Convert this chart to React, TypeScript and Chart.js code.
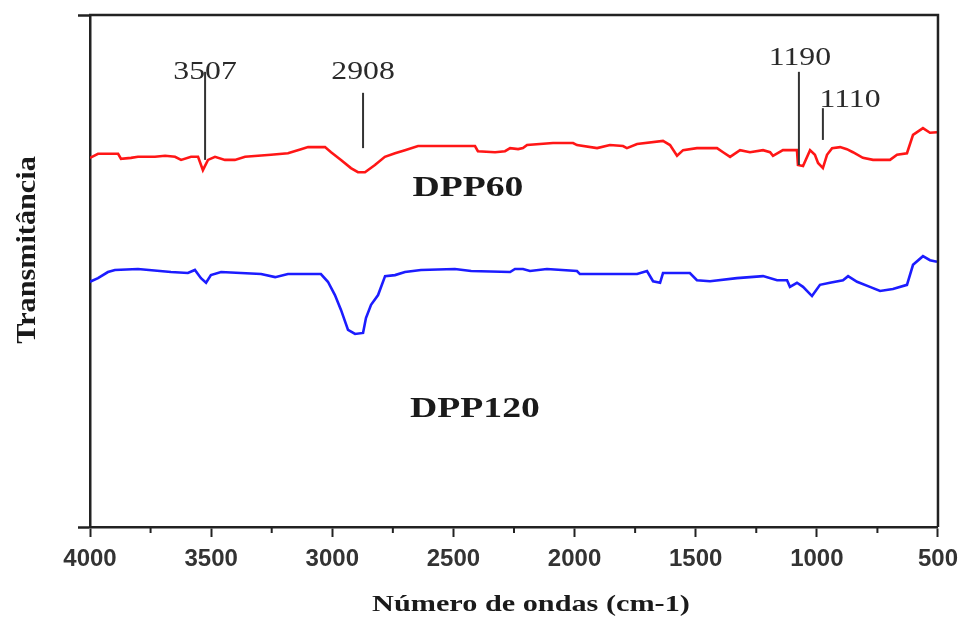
import React, { useEffect, useRef } from 'react';
import { Chart, registerables } from 'chart.js';

Chart.register(...registerables);

// FTIR spectra (wavenumber in cm-1, transmittance in arbitrary units)
const redWave = [4000, 3967, 3884, 3872, 3831, 3802, 3732, 3690, 3649, 3624, 3583, 3554, 3534, 3513, 3484, 3443, 3402, 3360, 3253, 3183, 3129, 3100, 3030, 3005, 2964, 2923, 2894, 2865, 2824, 2783, 2741, 2700, 2646, 2564, 2411, 2399, 2328, 2287, 2266, 2233, 2213, 2196, 2089, 2006, 1990, 1907, 1854, 1800, 1784, 1742, 1635, 1606, 1577, 1552, 1495, 1412, 1387, 1358, 1317, 1276, 1222, 1193, 1181, 1140, 1082, 1078, 1057, 1028, 1008, 995, 975, 958, 937, 904, 876, 851, 810, 768, 698, 669, 628, 603, 562, 533, 504];
const redValues = [72.1, 72.9, 72.9, 71.9, 72.1, 72.3, 72.3, 72.5, 72.3, 71.7, 72.3, 72.3, 69.7, 71.7, 72.3, 71.7, 71.7, 72.3, 72.7, 73.0, 73.8, 74.2, 74.2, 73.2, 71.7, 70.1, 69.3, 69.3, 70.7, 72.3, 73.0, 73.6, 74.4, 74.4, 74.4, 73.4, 73.2, 73.4, 74.0, 73.8, 74.0, 74.6, 75.0, 75.0, 74.6, 74.0, 74.6, 74.4, 74.0, 74.8, 75.4, 74.6, 72.5, 73.6, 74.0, 74.0, 73.2, 72.3, 73.6, 73.2, 73.6, 73.2, 72.5, 73.6, 73.6, 70.7, 70.5, 73.6, 72.7, 71.1, 70.1, 72.7, 74.0, 74.2, 73.8, 73.2, 72.1, 71.7, 71.7, 72.7, 73.0, 76.6, 77.9, 77.0, 77.1];

const blueWave = [4000, 3967, 3926, 3897, 3802, 3666, 3596, 3567, 3542, 3521, 3501, 3459, 3377, 3294, 3236, 3183, 3047, 3018, 2989, 2964, 2935, 2906, 2873, 2861, 2840, 2811, 2782, 2741, 2700, 2634, 2494, 2427, 2266, 2246, 2213, 2184, 2114, 1990, 1978, 1742, 1701, 1676, 1647, 1635, 1524, 1495, 1441, 1330, 1276, 1222, 1164, 1123, 1111, 1082, 1057, 1020, 987, 946, 892, 871, 834, 781, 739, 686, 628, 603, 562, 533, 504];
const blueValues = [47.9, 48.6, 49.8, 50.2, 50.4, 49.8, 49.6, 50.2, 48.6, 47.7, 49.2, 49.8, 49.6, 49.4, 48.8, 49.4, 49.4, 47.9, 45.3, 42.4, 38.5, 37.7, 37.9, 40.8, 43.4, 45.3, 49.0, 49.2, 49.8, 50.2, 50.4, 50.0, 49.8, 50.4, 50.4, 50.0, 50.4, 50.0, 49.4, 49.4, 50.0, 48.0, 47.7, 49.6, 49.6, 48.2, 48.0, 48.6, 48.8, 49.0, 48.2, 48.2, 46.9, 47.7, 46.9, 45.1, 47.3, 47.7, 48.2, 49.0, 47.9, 46.9, 46.1, 46.5, 47.3, 51.2, 52.9, 52.1, 51.8];

const xTickValues = [4000, 3500, 3000, 2500, 2000, 1500, 1000, 500];
const xMinorTickValues = [3750, 3250, 2750, 2250, 1750, 1250, 750];

const peakLabels = ['3507', '2908', '1190', '1110'];
const peakLineX = [3525, 2873, 1074, 975];
const peakLineTop = [88.9, 84.8, 88.9, 81.8];
const peakLineBottom = [71.7, 74.0, 70.7, 75.6];
const peakTextX = [3525, 2873, 1070, 863];
const peakTextY = [88.9, 88.9, 91.6, 83.4];

const seriesNames = ['DPP60', 'DPP120'];
const seriesColors = ['rgb(255,22,22)', 'rgb(28,28,255)'];
const seriesLabelX = [2440, 2411];
const seriesLabelY = [66.2, 22.9];

const xTitle = 'Número de ondas (cm-1)';
const yTitle = 'Transmitância';

const SERIF = "'Liberation Serif', 'DejaVu Serif', serif";
const SANS = "'Liberation Sans', Arial, sans-serif";

function stretchedText(ctx: CanvasRenderingContext2D, text: string, cx: number, cy: number, font: string, sx: number, rotate = 0) {
  ctx.save();
  ctx.translate(cx, cy);
  if (rotate) ctx.rotate(rotate);
  ctx.scale(sx, 1);
  ctx.font = font;
  ctx.textAlign = 'center';
  ctx.textBaseline = 'middle';
  ctx.fillText(text, 0, 0);
  ctx.restore();
}

const overlayPlugin = {
  id: 'overlay',
  afterDraw(chart: any) {
    const { ctx, chartArea: a, scales } = chart;
    const x = scales.x;
    const y = scales.y;
    ctx.save();
    // frame: top & right
    ctx.strokeStyle = '#222';
    ctx.lineWidth = 2.5;
    ctx.beginPath();
    ctx.moveTo(a.left - 1, a.top);
    ctx.lineTo(a.right, a.top);
    ctx.lineTo(a.right, a.bottom);
    ctx.stroke();
    // minor ticks
    ctx.lineWidth = 2;
    xMinorTickValues.forEach((v) => {
      const px = x.getPixelForValue(v);
      ctx.beginPath();
      ctx.moveTo(px, a.bottom);
      ctx.lineTo(px, a.bottom + 6);
      ctx.stroke();
    });
    // peak labels
    ctx.fillStyle = '#2a2a2a';
    peakLabels.forEach((lab, i) => {
      stretchedText(ctx, lab, x.getPixelForValue(peakTextX[i]), y.getPixelForValue(peakTextY[i]), `26px ${SERIF}`, 1.22);
    });
    // peak marker lines
    ctx.strokeStyle = '#333';
    ctx.lineWidth = 2;
    peakLabels.forEach((lab, i) => {
      const px = x.getPixelForValue(peakLineX[i]);
      ctx.beginPath();
      ctx.moveTo(px, y.getPixelForValue(peakLineTop[i]));
      ctx.lineTo(px, y.getPixelForValue(peakLineBottom[i]));
      ctx.stroke();
    });
    // series names
    ctx.fillStyle = '#1a1a1a';
    seriesNames.forEach((n, i) => {
      stretchedText(ctx, n, x.getPixelForValue(seriesLabelX[i]), y.getPixelForValue(seriesLabelY[i]), `bold 29px ${SERIF}`, 1.3);
    });
    // axis titles
    ctx.fillStyle = '#1a1a1a';
    stretchedText(ctx, xTitle, a.left + (a.right - a.left) * 0.52, a.bottom + 78, `bold 24px ${SERIF}`, 1.26);
    stretchedText(ctx, yTitle, 28, (a.top + a.bottom) / 2 - 21, `bold 28px ${SERIF}`, 1.08, -Math.PI / 2);
    ctx.restore();
  },
};

export default function App() {
  const ref = useRef<HTMLCanvasElement | null>(null);
  useEffect(() => {
    if (!ref.current) return;
    const chart = new Chart(ref.current, {
      type: 'line',
      data: {
        datasets: [
          {
            label: seriesNames[0],
            data: redWave.map((w, i) => ({ x: w, y: redValues[i] })),
            borderColor: seriesColors[0],
            borderWidth: 2.6,
            pointRadius: 0,
            tension: 0,
          },
          {
            label: seriesNames[1],
            data: blueWave.map((w, i) => ({ x: w, y: blueValues[i] })),
            borderColor: seriesColors[1],
            borderWidth: 2.6,
            pointRadius: 0,
            tension: 0,
          },
        ],
      },
      options: {
        animation: false,
        responsive: true,
        maintainAspectRatio: false,
        layout: { padding: { top: 15, right: 28, bottom: 0, left: 0 } },
        plugins: { legend: { display: false }, tooltip: { enabled: false } },
        scales: {
          x: {
            type: 'linear',
            reverse: true,
            min: 500,
            max: 4000,
            afterFit: (s: any) => { s.height = 91; },
            afterBuildTicks: (s: any) => { s.ticks = xTickValues.map((v) => ({ value: v })); },
            ticks: {
              autoSkip: false,
              maxRotation: 0,
              padding: 8,
              color: '#333',
              font: { family: SANS, size: 24, weight: 'bold' },
              callback: (v: any) => String(v),
            },
            grid: { drawOnChartArea: false, tickLength: 10, tickWidth: 2, tickColor: '#222' },
            border: { color: '#222', width: 2.5 },
          },
          y: {
            min: 0,
            max: 100,
            afterFit: (s: any) => { s.width = 90; },
            ticks: { display: false, stepSize: 100 },
            grid: { drawOnChartArea: false, tickLength: 12, tickWidth: 2.5, tickColor: '#222' },
            border: { color: '#222', width: 2.5 },
          },
        },
      },
      plugins: [overlayPlugin],
    });
    return () => chart.destroy();
  }, []);
  return (
    <div style={{ position: 'fixed', left: 0, top: 0, width: 966, height: 618, background: '#fff' }}>
      <canvas ref={ref} />
    </div>
  );
}
